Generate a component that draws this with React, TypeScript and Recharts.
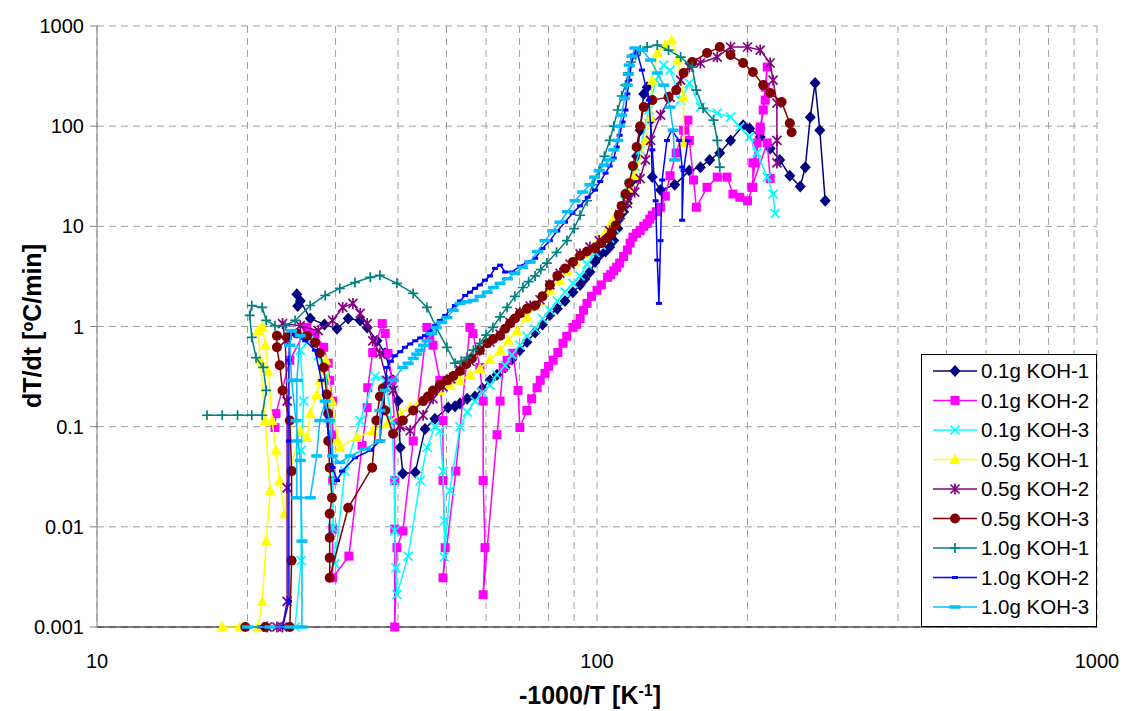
import React from 'react';
import { ScatterChart, Scatter, XAxis, YAxis, CartesianGrid } from 'recharts';

type Pt = [number, number];

const FONT = '"Liberation Sans", Arial, sans-serif';

// axes
const xTicks = [10, 20, 30, 40, 50, 60, 70, 80, 90, 100, 200, 300, 400, 500, 600, 700, 800, 900, 1000];
const xLabels = [10, 100, 1000];
const yTicks = [0.001, 0.01, 0.1, 1, 10, 100, 1000];

// 0.1g KOH-1
const koh01_1: Pt[] = [
  [25.2, 1.6], [25.1, 2.1], [25.5, 1.8], [26.7, 1.2], [28.5, 1.05], [30.2, 0.95], [31.8, 1.2], [33.6, 1.15],
  [34.7, 0.98], [36.3, 0.72], [37.7, 0.54], [39.1, 0.29], [40.0, 0.18], [40.4, 0.062], [40.9, 0.034],
  [43.3, 0.035], [45.3, 0.095], [47.4, 0.12], [50.4, 0.155], [52.0, 0.16], [53.2, 0.17], [55.0, 0.19],
  [57.0, 0.2], [59.0, 0.24], [61.1, 0.29], [63.1, 0.33], [65.5, 0.39], [67.6, 0.47], [70.1, 0.58],
  [72.4, 0.7], [75.2, 0.87], [77.8, 1.05], [80.5, 1.3], [83.3, 1.5], [86.3, 1.8], [89.5, 2.2], [92.5, 2.6],
  [94.6, 3.0], [96.8, 3.5], [99.1, 4.4], [101, 5.1], [104, 5.6], [106, 6.2], [108, 7.2], [110, 9.5],
  [111, 12], [113, 14], [115, 17], [117, 22], [118, 29], [120, 50], [122, 91], [124, 210], [126, 245],
  [128, 115], [129, 31], [134, 23], [143, 26], [153, 36], [161, 39], [168, 46], [176, 54], [185, 72],
  [196, 102], [202, 95], [212, 78], [222, 60], [232, 46], [243, 32], [255, 25], [261, 39], [267, 123],
  [273, 269], [279, 91], [286, 18],
];

// 0.1g KOH-2
const koh01_2: Pt[] = [
  [22.7, 0.098], [22.8, 0.135], [24.3, 0.46], [26.3, 0.98], [27.3, 0.85], [28.4, 0.62], [29.0, 0.43],
  [29.2, 0.29], [29.6, 0.18], [29.6, 0.083], [29.6, 0.029], [29.6, 0.0095], [29.6, 0.0031], [31.9, 0.0051],
  [33.9, 0.065], [34.7, 0.155], [34.8, 0.245], [35.6, 0.55], [37.2, 1.07], [37.7, 0.85], [38.2, 0.54],
  [38.9, 0.29], [39.3, 0.115], [39.4, 0.029], [39.4, 0.0095], [39.4, 0.001], [39.8, 0.0062], [40.9, 0.0091],
  [42.9, 0.072], [45.7, 0.98], [46.3, 0.78], [47.0, 0.65], [48.5, 0.29], [49.2, 0.115], [49.2, 0.029],
  [49.7, 0.0062], [49.2, 0.0031], [52.2, 0.036], [55.7, 0.98], [56.5, 0.85], [58.3, 0.39], [59.2, 0.18],
  [59.2, 0.029], [59.7, 0.0062], [59.2, 0.0021], [63.1, 0.083], [64.0, 0.18], [64.9, 0.39], [66.1, 0.46],
  [67.9, 0.54], [69.5, 0.23], [70.1, 0.098], [72.4, 0.145], [74.0, 0.19], [75.9, 0.245], [77.0, 0.29],
  [78.7, 0.34], [80.0, 0.4], [81.7, 0.46], [83.5, 0.55], [85.5, 0.68], [87.0, 0.8], [89.5, 0.98],
  [91.0, 1.05], [92.5, 1.2], [94.0, 1.45], [95.5, 1.7], [97.5, 2.0], [100, 2.3], [102, 2.6], [105, 3.1],
  [106.5, 3.3], [108, 3.6], [109.5, 3.9], [111, 4.3], [113, 5.0], [115, 5.8], [116.5, 6.8], [118, 7.8],
  [120, 8.5], [122, 9.1], [124, 10], [126, 10.7], [127.5, 11.8], [129, 12.9], [131.5, 14], [134, 15.5],
  [137, 20], [140, 32], [144, 54], [149, 91], [152, 115], [153, 72], [156, 29], [158, 15.5], [166, 24.5],
  [174, 31], [182, 31], [187, 21], [193, 19.5], [200, 18], [205, 24.5], [205, 43], [209, 68], [212, 98],
  [215, 145], [217, 245], [219, 389], [217, 182], [212, 91], [207, 43], [204, 24.5], [219, 68], [222, 30],
];

// 0.1g KOH-3
const koh01_3: Pt[] = [
  [24.9, 0.001], [25.6, 0.0046], [25.6, 0.058], [25.9, 0.18], [25.5, 0.58], [26.5, 0.72], [27.7, 0.51],
  [28.7, 0.32], [29.4, 0.115], [29.6, 0.029], [29.6, 0.0098], [29.9, 0.0043], [31.3, 0.036], [33.6, 0.115],
  [36.0, 0.32], [37.7, 0.29], [38.9, 0.115], [39.3, 0.029], [39.4, 0.0091], [39.6, 0.0039], [39.8, 0.0021],
  [41.9, 0.0051], [44.3, 0.029], [45.7, 0.062], [47.4, 0.1], [48.5, 0.091], [49.2, 0.036], [49.5, 0.0115],
  [49.5, 0.005], [50.8, 0.023], [53.2, 0.1], [55.0, 0.14], [57.0, 0.18], [59.0, 0.22], [61.1, 0.26],
  [63.1, 0.33], [65.5, 0.41], [67.6, 0.52], [70.1, 0.65], [72.4, 0.8], [75.2, 0.95], [77.8, 1.2],
  [80.5, 1.45], [83.3, 1.8], [86.3, 2.2], [89.5, 2.7], [92.5, 3.2], [95.5, 4.2], [99.1, 5.5], [102, 6.5],
  [106, 7.6], [108.5, 9.5], [111, 12.9], [113.5, 18], [116, 26], [119, 40], [122, 58], [127, 145],
  [131, 288], [136, 407], [140, 363], [147, 182], [153, 269], [161, 155], [174, 135], [185, 123], [193, 98],
  [202, 78], [209, 54], [219, 31], [225, 21], [227, 13.5],
];

// 0.5g KOH-1
const koh05_1: Pt[] = [
  [17.8, 0.001], [19.3, 0.001], [21.0, 0.001], [21.4, 0.0018], [21.8, 0.0072], [22.2, 0.023], [21.7, 0.115],
  [21.2, 0.46], [21.0, 0.91], [21.4, 1.0], [21.7, 0.65], [22.0, 0.36], [22.4, 0.115], [22.8, 0.058],
  [23.2, 0.029], [23.7, 0.0135], [24.3, 0.036], [25.5, 0.091], [26.3, 0.078], [26.7, 0.135], [27.5, 0.21],
  [27.9, 0.29], [28.7, 0.46], [29.5, 0.18], [30.3, 0.072], [30.6, 0.062], [33.1, 0.078], [35.6, 0.091],
  [38.0, 0.107], [40.4, 0.135], [42.3, 0.155], [44.3, 0.18], [46.3, 0.2], [48.5, 0.23], [50.8, 0.26],
  [53.2, 0.29], [55.7, 0.33], [58.3, 0.38], [61.1, 0.47], [64.0, 0.58], [66.5, 0.73], [69.2, 0.91],
  [72.4, 1.25], [76.9, 1.8], [80.5, 2.3], [84.3, 2.9], [87.3, 3.6], [90.4, 4.4], [94.3, 5.3], [98.2, 6.2],
  [101, 7.3], [104, 8.7], [106.5, 10.5], [109, 12.9], [111.5, 15], [114, 18], [116.5, 24], [119, 32],
  [125, 72], [128, 123], [129, 288], [132, 537], [137, 646], [141, 724], [145, 457], [149, 195], [149, 68],
];

// 0.5g KOH-2
const koh05_2: Pt[] = [
  [21.9, 0.001], [22.9, 0.001], [23.5, 0.001], [24.0, 0.0018], [24.0, 0.0245], [24.0, 0.18], [23.8, 0.72],
  [23.5, 1.07], [25.5, 1.02], [27.7, 0.91], [29.6, 1.15], [31.0, 1.55], [32.5, 1.7], [33.6, 1.35],
  [34.7, 1.07], [35.6, 0.72], [36.8, 0.54], [38.0, 0.29], [39.1, 0.23], [40.4, 0.1], [42.3, 0.091],
  [44.9, 0.13], [47.0, 0.19], [49.2, 0.25], [51.0, 0.3], [53.2, 0.37], [55.7, 0.45], [58.3, 0.58],
  [61.1, 0.7], [64.0, 0.84], [67.0, 1.1], [70.1, 1.38], [73.5, 1.6], [76.9, 1.85], [80.5, 2.6],
  [84.3, 3.4], [88.3, 4.2], [92.5, 5.3], [96.8, 6.2], [101, 7.2], [106, 9.0], [111, 13], [115, 17],
  [119, 22], [122, 30], [125, 46], [128, 72], [134, 129], [140, 195], [147, 288], [153, 389], [161, 427],
  [174, 490], [185, 617], [200, 617], [212, 575], [222, 427], [225, 288], [229, 170], [229, 72], [229, 43],
];

// 0.5g KOH-3
const koh05_3: Pt[] = [
  [19.8, 0.001], [21.7, 0.001], [24.3, 0.001], [24.5, 0.0046], [24.5, 0.036], [24.3, 0.115], [23.5, 0.23],
  [23.2, 0.41], [22.9, 0.62], [22.9, 0.81], [24.0, 0.78], [25.1, 0.85], [26.3, 0.81], [27.3, 0.69],
  [27.9, 0.54], [28.4, 0.39], [28.8, 0.21], [29.0, 0.135], [29.0, 0.072], [29.2, 0.039], [29.5, 0.0195],
  [29.2, 0.0135], [29.2, 0.0078], [29.2, 0.0049], [29.2, 0.0031], [31.8, 0.0155], [35.5, 0.039],
  [36.2, 0.115], [36.8, 0.2], [37.3, 0.24], [37.7, 0.145], [39.1, 0.085], [40.9, 0.115], [42.9, 0.145],
  [44.9, 0.18], [45.9, 0.2], [47.0, 0.23], [48.5, 0.26], [50.1, 0.29], [51.6, 0.32], [53.2, 0.36],
  [54.7, 0.42], [56.2, 0.48], [58.3, 0.58], [60.3, 0.68], [62.0, 0.75], [64.0, 0.81], [65.5, 0.95],
  [67.0, 1.07], [68.5, 1.2], [70.1, 1.35], [72.4, 1.5], [75.2, 1.62], [77.8, 2.0], [80.5, 2.6], [83.3, 3.2],
  [86.3, 3.8], [89.5, 4.4], [92.5, 5.1], [95.5, 5.6], [99.1, 6.0], [102, 6.8], [105, 7.6], [107, 8.6],
  [109, 10.2], [110.5, 13], [112, 16], [114, 21], [116, 27], [118, 40], [120, 62], [122, 100], [124, 155],
  [129, 182], [139, 195], [144, 229], [149, 339], [155, 437], [166, 537], [176, 617], [185, 513], [196, 427],
  [205, 347], [215, 257], [222, 214], [234, 174], [243, 107], [245, 87],
];

// 1.0g KOH-1
const koh10_1: Pt[] = [
  [16.6, 0.13], [17.8, 0.13], [19.1, 0.13], [20.4, 0.13], [21.4, 0.13], [21.8, 0.23], [21.5, 0.39],
  [20.8, 0.49], [20.4, 0.78], [20.2, 1.29], [20.4, 1.62], [21.4, 1.55], [21.8, 1.15], [22.7, 1.02],
  [23.8, 1.02], [24.9, 1.15], [26.7, 1.62], [28.6, 2.04], [30.6, 2.4], [32.8, 2.75], [35.2, 3.1],
  [36.8, 3.24], [39.8, 2.7], [42.9, 2.14], [45.7, 1.55], [47.7, 0.98], [50.1, 0.62], [52.0, 0.43],
  [53.5, 0.45], [55.0, 0.49], [56.6, 0.58], [58.3, 0.68], [60.0, 0.82], [61.9, 0.98], [64.0, 1.25],
  [66.1, 1.55], [68.5, 2.0], [71.1, 2.45], [73.0, 2.8], [75.2, 3.2], [77.2, 3.7], [79.4, 4.3], [83.0, 5.5],
  [87.1, 7.2], [90.0, 9.5], [92.5, 12.9], [95.5, 18], [98.0, 26], [101, 36], [103.5, 50], [106, 72],
  [108, 100], [110, 145], [112, 200], [114, 257], [115.5, 340], [117, 437], [119.5, 510], [122, 575],
  [126, 617], [132, 646], [139, 575], [147, 490], [155, 389], [158, 229], [163, 151], [171, 115], [174, 72],
  [176, 39],
];

// 1.0g KOH-2
const koh10_2: Pt[] = [
  [21.2, 0.001], [23.5, 0.001], [24.2, 0.0018], [24.2, 0.072], [24.2, 0.46], [24.3, 0.91], [25.0, 0.81],
  [26.1, 0.72], [27.3, 0.58], [28.1, 0.29], [28.8, 0.115], [29.6, 0.039], [30.2, 0.029], [30.9, 0.036],
  [32.8, 0.049], [35.2, 0.058], [36.8, 0.072], [38.0, 0.39], [38.7, 0.45], [39.4, 0.51], [40.4, 0.56],
  [41.3, 0.62], [42.3, 0.67], [43.3, 0.72], [44.3, 0.77], [45.3, 0.81], [46.3, 0.9], [47.4, 1.02],
  [48.5, 1.15], [49.7, 1.29], [50.8, 1.45], [52.0, 1.62], [53.2, 1.8], [54.5, 2.04], [55.7, 2.2],
  [57.0, 2.4], [58.3, 2.6], [59.7, 2.9], [61.1, 3.2], [62.5, 3.8], [64.0, 4.1], [65.5, 3.5], [67.6, 3.5],
  [70.1, 4.0], [72.6, 4.4], [75.2, 4.8], [77.8, 6.0], [80.5, 7.2], [83.3, 9], [86.3, 11], [89.3, 13.5],
  [92.5, 16], [95.8, 19.5], [99.1, 23], [101.5, 28], [104, 34], [106, 40], [108, 48], [109.5, 62], [111, 81],
  [112.5, 110], [114, 145], [115, 210], [116, 288], [117, 400], [118, 513], [120, 575], [123, 363],
  [127, 182], [129, 58], [131, 18], [132, 4.6], [133, 1.7], [134, 7.2], [135, 29], [138, 72], [141, 91],
  [146, 72], [148, 39], [148, 11.5], [149, 36], [152, 72],
];

// 1.0g KOH-3
const koh10_3: Pt[] = [
  [20.0, 0.001], [22.2, 0.001], [24.3, 0.001], [25.7, 0.001], [25.7, 0.0072], [25.5, 0.046], [25.0, 0.115],
  [24.5, 0.29], [24.3, 0.65], [24.5, 0.91], [25.5, 0.81], [25.1, 0.29], [25.1, 0.072], [25.1, 0.0195],
  [26.7, 0.0195], [27.5, 0.051], [27.9, 0.115], [28.6, 0.18], [29.2, 0.115], [29.6, 0.051], [30.6, 0.044],
  [32.1, 0.051], [34.4, 0.06], [36.8, 0.072], [36.8, 0.145], [37.7, 0.23], [39.1, 0.29], [40.9, 0.39],
  [41.9, 0.43], [42.9, 0.48], [43.6, 0.53], [44.3, 0.58], [45.0, 0.65], [45.7, 0.72], [46.7, 0.85],
  [47.7, 0.98], [48.9, 1.1], [50.1, 1.23], [51.6, 1.45], [53.2, 1.7], [54.8, 1.76], [56.5, 1.82],
  [58.4, 2.0], [60.3, 2.2], [62.1, 2.45], [64.0, 2.7], [66.2, 3.0], [68.5, 3.4], [71.0, 3.9], [73.5, 4.4],
  [76.0, 5.6], [78.7, 7.2], [81.5, 9], [84.3, 11], [87.3, 14], [90.4, 18], [93.6, 22], [96.8, 26],
  [98.9, 31], [101, 36], [103.5, 41], [106, 46], [108, 58], [110, 72], [111, 100], [112, 129],
  [113.5, 190], [115, 257], [115.5, 330], [116, 407], [117.5, 500], [119, 603], [123, 575], [128, 457],
  [132, 339], [136, 257], [140, 155], [142, 91], [143, 46],
];

type Kind = 'diamond' | 'square' | 'x' | 'triangle' | 'star' | 'circle' | 'plus' | 'dashS' | 'dashL';

const series: { name: string; color: string; kind: Kind; data: Pt[] }[] = [
  { name: '0.1g KOH-1', color: '#000080', kind: 'diamond', data: koh01_1 },
  { name: '0.1g KOH-2', color: '#FF00FF', kind: 'square', data: koh01_2 },
  { name: '0.1g KOH-3', color: '#00FFFF', kind: 'x', data: koh01_3 },
  { name: '0.5g KOH-1', color: '#FFFF00', kind: 'triangle', data: koh05_1 },
  { name: '0.5g KOH-2', color: '#800080', kind: 'star', data: koh05_2 },
  { name: '0.5g KOH-3', color: '#800000', kind: 'circle', data: koh05_3 },
  { name: '1.0g KOH-1', color: '#008080', kind: 'plus', data: koh10_1 },
  { name: '1.0g KOH-2', color: '#0000FF', kind: 'dashS', data: koh10_2 },
  { name: '1.0g KOH-3', color: '#00BFFF', kind: 'dashL', data: koh10_3 },
];

function Marker({ kind, cx, cy, color }: { kind: Kind; cx: number; cy: number; color: string }) {
  switch (kind) {
    case 'diamond':
      return <polygon points={`${cx},${cy - 6} ${cx + 5.5},${cy} ${cx},${cy + 6} ${cx - 5.5},${cy}`} fill={color} />;
    case 'square':
      return <rect x={cx - 4.5} y={cy - 4.5} width={9} height={9} fill={color} />;
    case 'x':
      return <path d={`M${cx - 4.5} ${cy - 4.5}L${cx + 4.5} ${cy + 4.5}M${cx - 4.5} ${cy + 4.5}L${cx + 4.5} ${cy - 4.5}`} stroke={color} strokeWidth={1.7} />;
    case 'triangle':
      return <polygon points={`${cx},${cy - 6} ${cx + 5.5},${cy + 4.5} ${cx - 5.5},${cy + 4.5}`} fill={color} />;
    case 'star':
      return (
        <path
          d={`M${cx - 4.5} ${cy - 4.5}L${cx + 4.5} ${cy + 4.5}M${cx - 4.5} ${cy + 4.5}L${cx + 4.5} ${cy - 4.5}M${cx} ${cy - 5.5}L${cx} ${cy + 5.5}`}
          stroke={color}
          strokeWidth={1.7}
        />
      );
    case 'circle':
      return <circle cx={cx} cy={cy} r={5} fill={color} />;
    case 'plus':
      return <path d={`M${cx - 5} ${cy}L${cx + 5} ${cy}M${cx} ${cy - 5}L${cx} ${cy + 5}`} stroke={color} strokeWidth={1.7} />;
    case 'dashS':
      return <rect x={cx - 3} y={cy - 1.5} width={6} height={3} fill={color} />;
    case 'dashL':
      return <rect x={cx - 5.5} y={cy - 1.75} width={11} height={3.5} fill={color} />;
  }
  return null;
}

const XTick = (props: any) => {
  const { x, y, payload } = props;
  if (!xLabels.includes(payload.value)) return <g />;
  return (
    <text x={x} y={y} dy="0.71em" textAnchor="middle" fontSize={20} fontFamily={FONT} fill="#000">
      {payload.value}
    </text>
  );
};

export default function App() {
  return (
    <div style={{ position: 'absolute', left: 0, top: 0, width: 1124, height: 711, background: '#fff' }}>
      <ScatterChart width={1124} height={711} margin={{ top: 26, right: 27, left: 0, bottom: 0 }}>
        <CartesianGrid stroke="#A0A0A0" strokeDasharray="7 5" />
        <XAxis
          type="number"
          dataKey="x"
          scale="log"
          domain={[10, 1000]}
          ticks={xTicks}
          interval={0}
          height={84}
          tick={<XTick />}
          tickLine={false}
          tickSize={7}
          tickMargin={20}
          axisLine={{ stroke: '#000' }}
        />
        <YAxis
          type="number"
          dataKey="y"
          scale="log"
          domain={[0.001, 1000]}
          ticks={yTicks}
          interval={0}
          width={97}
          tickSize={7}
          tickMargin={6}
          tick={{ fontSize: 20, fill: '#000', fontFamily: FONT }}
          tickLine={{ stroke: '#808080' }}
          axisLine={{ stroke: '#808080' }}
        />
        {series.map((s) => (
          <Scatter
            key={s.name}
            name={s.name}
            data={s.data.map(([x, y]) => ({ x, y }))}
            fill={s.color}
            line={{ strokeWidth: 1.5 }}
            lineType="joint"
            isAnimationActive={false}
            shape={(p: any) => <Marker kind={s.kind} cx={p.cx} cy={p.cy} color={s.color} />}
          />
        ))}
      </ScatterChart>

      <svg width={1124} height={711} style={{ position: 'absolute', left: 0, top: 0, pointerEvents: 'none' }}>
        <text
          transform="rotate(-90)"
          x={-326}
          y={41}
          textAnchor="middle"
          fontSize={25}
          fontWeight="bold"
          fontFamily={FONT}
        >
          dT/dt [<tspan baselineShift="super" fontSize={16}>o</tspan>C/min]
        </text>
        <text x={590} y={704} textAnchor="middle" fontSize={25} fontWeight="bold" fontFamily={FONT}>
          -1000/T [K<tspan baselineShift="super" fontSize={16}>-1</tspan>]
        </text>

        <g transform="translate(921,354)">
          <rect x={0.5} y={0.5} width={175} height={272} fill="#fff" stroke="#000" />
          {series.map((s, i) => {
            const cy = 17 + i * 29.5;
            return (
              <g key={s.name}>
                <line x1={12} x2={56} y1={cy} y2={cy} stroke={s.color} strokeWidth={1.5} />
                <Marker kind={s.kind} cx={34} cy={cy} color={s.color} />
                <text x={60} y={cy} dy="0.35em" fontSize={20.5} fontFamily={FONT} fill="#000">
                  {s.name}
                </text>
              </g>
            );
          })}
        </g>
      </svg>
    </div>
  );
}
